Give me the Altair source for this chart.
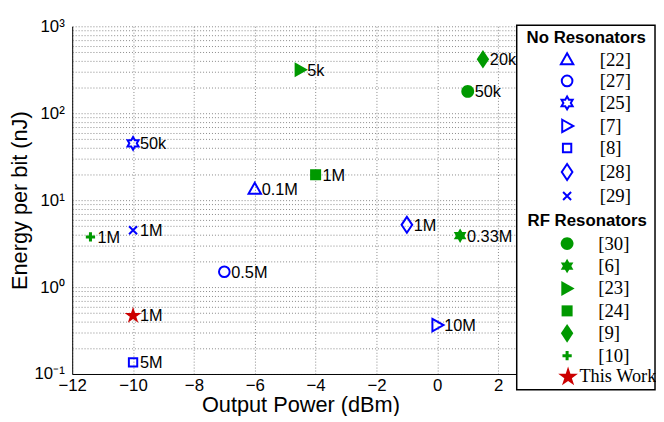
import math
import altair as alt
import pandas as pd

# ---------------- data ----------------
no_refs = ["[22]", "[27]", "[25]", "[7]", "[8]", "[28]", "[29]"]
no_x = [-6, -7, -10, 0, -10, -1, -10]
no_y = [13.3, 1.5, 45, 0.365, 0.136, 5.2, 4.5]
no_labels = ["0.1M", "0.5M", "50k", "10M", "5M", "1M", "1M"]

rf_refs = ["[30]", "[6]", "[23]", "[24]", "[9]", "[10]"]
rf_x = [1, 0.75, -4.5, -4, 1.5, -11.4]
rf_y = [178, 3.9, 316, 19.6, 418, 3.77]
rf_labels = ["50k", "0.33M", "5k", "1M", "20k", "1M"]

tw_refs = ["This Work"]
tw_x = [-10]
tw_y = [0.48]
tw_labels = ["1M"]

x_ticks = [-12, -10, -8, -6, -4, -2, 0, 2]
y_grid = [0.1, 0.2, 0.3, 0.4, 0.5, 0.6, 0.7, 0.8, 0.9,
          1, 2, 3, 4, 5, 6, 7, 8, 9,
          10, 20, 30, 40, 50, 60, 70, 80, 90,
          100, 200, 300, 400, 500, 600, 700, 800, 900, 1000]

# ---------------- marker paths (style) ----------------
def poly(pts):
    return "M" + "L".join(f"{x:.3f},{y:.3f}" for x, y in pts) + "Z"

def circle(r):
    return f"M{r},0A{r},{r},0,1,1,{-r},0A{r},{r},0,1,1,{r},0Z"

def hexagram(R):
    pts = []
    for k in range(12):
        a = math.radians(-90 + 30 * k)
        r = R if k % 2 == 0 else R / math.sqrt(3)
        pts.append((r * math.cos(a), r * math.sin(a)))
    return poly(pts)

def pentagram(R):
    pts = []
    for k in range(10):
        a = math.radians(-90 + 36 * k)
        r = R if k % 2 == 0 else R * 0.382
        pts.append((r * math.cos(a), r * math.sin(a) + 0.095 * R))
    return poly(pts)

def square(h):
    return poly([(-h, -h), (h, -h), (h, h), (-h, h)])

def plus(a, t):
    return poly([(-a, -t), (-t, -t), (-t, -a), (t, -a), (t, -t), (a, -t),
                 (a, t), (t, t), (t, a), (-t, a), (-t, t), (-a, t)])

blue_shapes = [
    poly([(0, -0.75), (0.7, 0.5), (-0.7, 0.5)]),
    circle(0.6),
    hexagram(0.72),
    poly([(-0.55, -0.7), (0.7, 0), (-0.55, 0.7)]),
    square(0.47),
    poly([(0, -0.9), (0.6, 0), (0, 0.9), (-0.6, 0)]),
    "M-0.45,-0.45L0.45,0.45M-0.45,0.45L0.45,-0.45",
]
green_shapes = [
    circle(0.72),
    hexagram(0.82),
    poly([(-0.65, -0.85), (0.85, 0), (-0.65, 0.85)]),
    square(0.62),
    poly([(0, -1.05), (0.7, 0), (0, 1.05), (-0.7, 0)]),
    plus(0.52, 0.17),
]
red_shapes = [pentagram(1.0)]

BLUE = "#0000ff"
GREEN = "#009900"
RED = "#cc0000"

no_df = pd.DataFrame({"x": no_x, "y": no_y, "ref": no_refs, "lab": no_labels})
rf_df = pd.DataFrame({"x": rf_x, "y": rf_y, "ref": rf_refs, "lab": rf_labels})
tw_df = pd.DataFrame({"x": tw_x, "y": tw_y, "ref": tw_refs, "lab": tw_labels})
all_df = pd.concat([no_df, rf_df, tw_df], ignore_index=True)

label_expr = ("datum.value == 1000 ? '10³' : datum.value == 100 ? '10²' : "
              "datum.value == 10 ? '10¹' : datum.value == 1 ? '10⁰' : "
              "datum.value == 0.1 ? '10⁻¹' : ''")

X = alt.X("x:Q",
          scale=alt.Scale(domain=[-12, 3], nice=False, zero=False),
          axis=alt.Axis(values=x_ticks, title="Output Power (dBm)", grid=True,
                        ticks=False, tickSize=0, labelPadding=4, labelFlush=False,
                        titleY=31, titleBaseline="middle"))
Y = alt.Y("y:Q",
          scale=alt.Scale(type="log", domain=[0.1, 1000], nice=False),
          axis=alt.Axis(values=y_grid, labelExpr=label_expr, title="Energy per bit (nJ)",
                        grid=True, ticks=False, tickSize=0, labelPadding=8,
                        labelFlush=False, labelOverlap=False,
                        titleX=-53, titleY=176, titleBaseline="middle"))

common_leg = dict(orient="none", titleFont="Liberation Sans", titleFontSize=17,
                  titleFontWeight="bold", titleColor="black",
                  labelFont="Liberation Serif", labelColor="black", labelLimit=200)

blue_layer = alt.Chart(no_df).mark_point(
    filled=False, color=BLUE, strokeWidth=2, size=324, opacity=1
).encode(
    x=X, y=Y,
    shape=alt.Shape("ref:N", scale=alt.Scale(domain=no_refs, range=blue_shapes),
                    legend=alt.Legend(title="No Resonators", legendX=460, legendY=4,
                                      symbolSize=324, symbolStrokeWidth=2,
                                      symbolStrokeColor=BLUE, rowPadding=1.3,
                                      titlePadding=3, labelFontSize=19,
                                      symbolOffset=31, labelOffset=23, **common_leg)),
)

green_layer = alt.Chart(rf_df).mark_point(
    filled=True, color=GREEN, size=324, opacity=1
).encode(
    x=X, y=Y,
    shape=alt.Shape("ref:N", scale=alt.Scale(domain=rf_refs, range=green_shapes),
                    legend=alt.Legend(title="RF Resonators", legendX=461, legendY=189.5,
                                      symbolSize=324, symbolFillColor=GREEN,
                                      symbolStrokeWidth=0, rowPadding=2.7,
                                      titlePadding=4, labelFontSize=19,
                                      symbolOffset=30.5, labelOffset=22, **common_leg)),
)

red_layer = alt.Chart(tw_df).mark_point(
    filled=True, color=RED, size=324, opacity=1
).encode(
    x=X, y=Y,
    shape=alt.Shape("ref:N", scale=alt.Scale(domain=tw_refs, range=red_shapes),
                    legend=alt.Legend(title=None, legendX=483, legendY=343.5,
                                      symbolSize=440, symbolFillColor=RED,
                                      symbolStrokeWidth=0, labelFontSize=18.5,
                                      symbolOffset=8.5, labelOffset=1, **common_leg)),
)

text_layer = alt.Chart(all_df).mark_text(
    align="left", baseline="middle", dx=7, dy=1,
    font="Liberation Sans", fontSize=16.5, color="black"
).encode(x=X, y=Y, text="lab:N")

frame = alt.Chart(pd.DataFrame({"k": [0]})).mark_rect(
    fill="white", stroke="black", strokeWidth=1.5
).encode(x=alt.value(450), x2=alt.value(590), y=alt.value(-1), y2=alt.value(368))

chart = alt.layer(blue_layer, green_layer, red_layer, text_layer, frame).resolve_scale(
    shape="independent"
).resolve_legend(shape="independent").properties(
    width=462, height=352,
    autosize=alt.AutoSizeParams(type="none"),
    padding={"left": 65, "top": 16, "right": 129, "bottom": 40},
    background="white",
).configure_view(strokeWidth=0).configure_axis(
    labelFont="Liberation Sans", labelFontSize=17, labelColor="black",
    titleFont="Liberation Sans", titleFontSize=22, titleFontWeight="normal",
    titleColor="black", domainColor="black", domainWidth=1,
    gridColor="#888888", gridDash=[1, 2], gridWidth=1, gridOpacity=1,
)

chart.save("out.html", embed_options={"renderer": "svg", "actions": False})
